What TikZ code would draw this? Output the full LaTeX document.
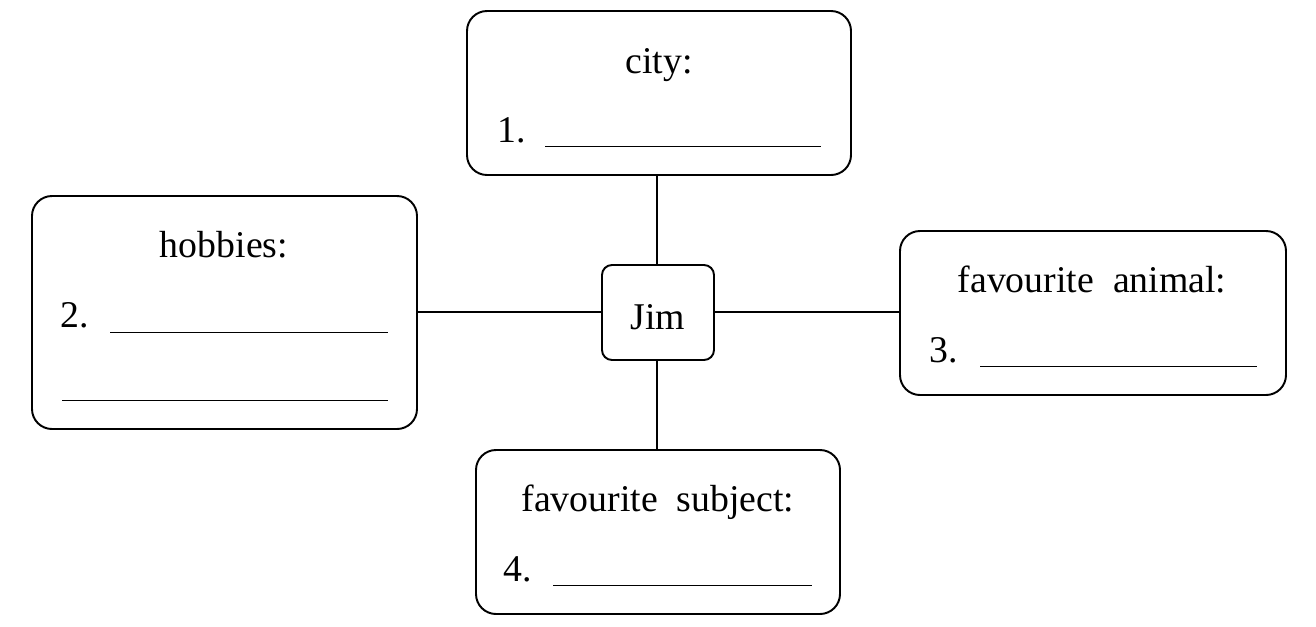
\documentclass[tikz,border=0pt]{standalone}
\usepackage{fontspec}
\setmainfont{Liberation Serif}
\begin{document}
\begin{tikzpicture}[x=0.02cm,y=-0.02cm,
  box/.style={draw,line width=1.1pt,rounded corners=20*0.02cm},
  jimbox/.style={draw,line width=1.1pt,rounded corners=10*0.02cm},
  conn/.style={line width=1.0pt},
  blank/.style={line width=0.5pt},
  lbl/.style={font=\fontsize{21.5}{24}\selectfont,inner sep=0pt,anchor=base}]
\useasboundingbox (0,0) rectangle (1316,626);
% boxes
\draw[box] (467,11) rectangle (851,175);
\draw[box] (32,196) rectangle (417,429);
\draw[box] (900,231) rectangle (1286,395);
\draw[box] (476,450) rectangle (840,614);
\node[jimbox,minimum width=112*0.02cm,minimum height=95*0.02cm,inner sep=0pt] (jim) at (658,312.5) {};
\coordinate (cityb) at (657,175);
\coordinate (hobr) at (417,312);
\coordinate (anil) at (900,312);
\coordinate (subt) at (657,450);
\draw[conn] (cityb) -- (jim.north -| cityb);
\draw[conn] (subt) -- (jim.south -| subt);
\draw[conn] (hobr) -- (jim.west |- hobr);
\draw[conn] (anil) -- (jim.east |- anil);
% texts
\node[lbl] (tjim) at (658,329) {Jim};
\node[lbl] (tcity) at (659,73) {city:};
\node[lbl] (t1) at (512,142) {1.};
\draw[blank] (545,146) -- (821,146);
\node[lbl] (thob) at (224,257) {hobbies:};
\node[lbl] (t2) at (75,327) {2.};
\draw[blank] (110,332) -- (388,332);
\draw[blank] (62,400) -- (388,400);
\node[lbl] (tani) at (1092,292) {favourite\ \ animal:};
\node[lbl] (t3) at (944,362) {3.};
\draw[blank] (980,366) -- (1257,366);
\node[lbl] (tsub) at (658,511) {favourite\ \ subject:};
\node[lbl] (t4) at (518,581) {4.};
\draw[blank] (553,585) -- (812,585);
\end{tikzpicture}
\end{document}
